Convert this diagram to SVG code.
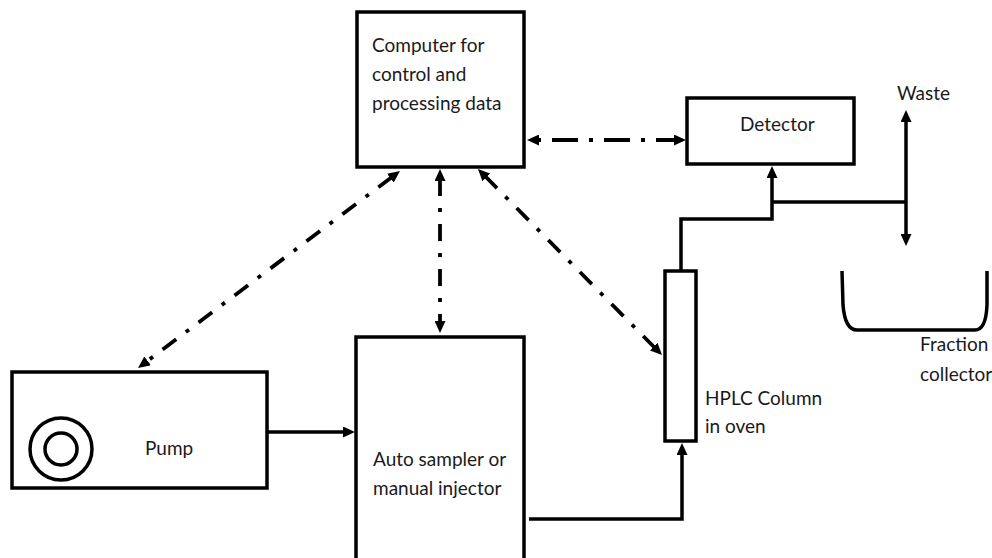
<svg xmlns="http://www.w3.org/2000/svg" width="992" height="558" viewBox="0 0 992 558">
  <style>
    .box { fill: #ffffff; stroke: #000000; stroke-width: 3.5; }
    .flow { fill: none; stroke: #000000; stroke-width: 3.5; }
    .ctrl { fill: none; stroke: #000000; stroke-width: 3.8; stroke-dasharray: 17 12 4 12; }
    .lbl { font-family: Lato, "Open Sans", sans-serif; font-size: 19px; fill: #1a1a1a; }
  </style>
  <defs>
    <marker id="arr" viewBox="0 -5.5 12 11" refX="2" refY="0" markerWidth="12" markerHeight="11" markerUnits="userSpaceOnUse" orient="auto-start-reverse">
      <path d="M0,-5.5 L12,0 L0,5.5 z" fill="#000000"/>
    </marker>
  </defs>

  <g id="computer">
    <rect class="box" x="357" y="12" width="167" height="155"/>
    <text class="lbl" x="372" y="52">Computer for</text>
    <text class="lbl" x="372" y="81">control and</text>
    <text class="lbl" x="372" y="110">processing data</text>
  </g>

  <g id="detector">
    <rect class="box" x="687" y="98" width="167" height="66"/>
    <text class="lbl" x="740" y="131">Detector</text>
  </g>

  <g id="pump">
    <rect class="box" x="12" y="372" width="255" height="116"/>
    <circle cx="61" cy="449" r="31" fill="none" stroke="#000" stroke-width="3.5"/>
    <circle cx="61" cy="449" r="16" fill="none" stroke="#000" stroke-width="3.5"/>
    <text class="lbl" x="145" y="455">Pump</text>
  </g>

  <g id="autosampler">
    <rect class="box" x="356" y="337" width="168" height="240"/>
    <text class="lbl" x="373" y="466">Auto sampler or</text>
    <text class="lbl" x="373" y="495">manual injector</text>
  </g>

  <g id="column">
    <rect class="box" x="665" y="271" width="31" height="170"/>
    <text class="lbl" x="705" y="405">HPLC Column</text>
    <text class="lbl" x="705" y="433">in oven</text>
  </g>

  <g id="waste">
    <text class="lbl" x="897" y="100">Waste</text>
  </g>

  <g id="fraction-collector">
    <path class="flow" d="M842,271 L843,305 Q845,330 857,330 L975,330 Q986,330 987,305 L987,271" stroke-width="4"/>
    <text class="lbl" x="920" y="351">Fraction</text>
    <text class="lbl" x="920" y="381">collector</text>
  </g>

  <g id="connectors">
    <!-- solid flow lines -->
    <line class="flow" x1="268" y1="432" x2="345" y2="432" marker-end="url(#arr)"/>
    <path class="flow" d="M529,519 H682 V453" marker-end="url(#arr)"/>
    <path class="flow" d="M681,271 V219 H772 V176" marker-end="url(#arr)"/>
    <line class="flow" x1="772" y1="202" x2="906" y2="202"/>
    <line class="flow" x1="906" y1="120" x2="906" y2="236" marker-start="url(#arr)" marker-end="url(#arr)"/>
    <!-- dash-dot control lines -->
    <line class="ctrl" x1="537" y1="140" x2="676" y2="140" style="stroke-dasharray: 4 11 26 11" marker-start="url(#arr)" marker-end="url(#arr)"/>
    <line class="ctrl" x1="392" y1="177" x2="146" y2="362" marker-start="url(#arr)" marker-end="url(#arr)"/>
    <line class="ctrl" x1="440" y1="179" x2="440" y2="323" marker-start="url(#arr)" marker-end="url(#arr)"/>
    <line class="ctrl" x1="485" y1="176" x2="655" y2="348" marker-start="url(#arr)" marker-end="url(#arr)"/>
  </g>
</svg>
